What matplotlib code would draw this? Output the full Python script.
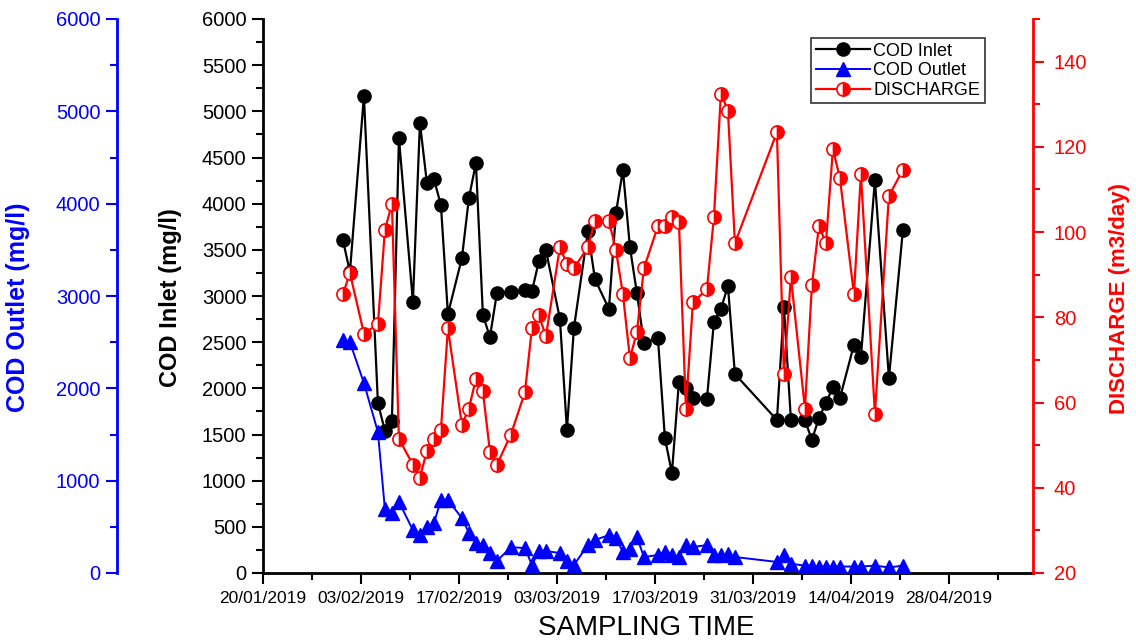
import pandas as pd
import matplotlib
matplotlib.use('Agg')
import matplotlib.pyplot as plt
import matplotlib.dates as mdates
from matplotlib.ticker import MultipleLocator

plt.rcParams['font.family'] = ['Liberation Sans', 'DejaVu Sans']

# sampling dates (taken around 10:00 each day)
sample_days = ['2019-01-31', '2019-02-01', '2019-02-03', '2019-02-05', '2019-02-06', '2019-02-07',
               '2019-02-08', '2019-02-10', '2019-02-11', '2019-02-12', '2019-02-13', '2019-02-14',
               '2019-02-15', '2019-02-17', '2019-02-18', '2019-02-19', '2019-02-20', '2019-02-21',
               '2019-02-22', '2019-02-24', '2019-02-26', '2019-02-27', '2019-02-28', '2019-03-01',
               '2019-03-03', '2019-03-04', '2019-03-05', '2019-03-07', '2019-03-08', '2019-03-10',
               '2019-03-11', '2019-03-12', '2019-03-13', '2019-03-14', '2019-03-15', '2019-03-17',
               '2019-03-18', '2019-03-19', '2019-03-20', '2019-03-21', '2019-03-22', '2019-03-24',
               '2019-03-25', '2019-03-26', '2019-03-27', '2019-03-28', '2019-04-03', '2019-04-04',
               '2019-04-05', '2019-04-07', '2019-04-08', '2019-04-09', '2019-04-10', '2019-04-11',
               '2019-04-12', '2019-04-14', '2019-04-15', '2019-04-17', '2019-04-19', '2019-04-21']

cod_inlet = [3606, 3260, 5166, 1840, 1540, 1650,
             4710, 2935, 4873, 4225, 4267, 3985,
             2805, 3411, 4061, 4440, 2794, 2556,
             3033, 3044, 3070, 3050, 3379, 3498,
             2751, 1549, 2653, 3704, 3184, 2859,
             3899, 4364, 3530, 3030, 2490, 2545,
             1460, 1083, 2070, 2000, 1895, 1884,
             2718, 2860, 3108, 2155, 1657, 2880,
             1657, 1657, 1440, 1680, 1840, 2015,
             1895, 2470, 2340, 4256, 2112, 3715]

cod_outlet = [2523, 2500, 2058, 1527, 690, 650,
              770, 465, 412, 500, 540, 790,
              790, 595, 433, 325, 303, 217,
              130, 280, 270, 87, 238, 238,
              216, 130, 87, 303, 357, 411,
              379, 227, 260, 390, 173, 195,
              227, 195, 173, 303, 281, 303,
              195, 195, 205, 173, 120, 190,
              100, 80, 80, 70, 70, 70,
              70, 70, 70, 80, 60, 80]

discharge = [85.4, 90.4, 76.2, 78.4, 100.5, 106.6,
             51.5, 45.4, 42.4, 48.7, 51.5, 53.6,
             77.4, 54.8, 58.6, 65.6, 62.6, 48.5,
             45.4, 52.5, 62.4, 77.4, 80.5, 75.5,
             96.5, 92.5, 91.5, 96.5, 102.6, 102.6,
             95.8, 85.4, 70.4, 76.5, 91.5, 101.4,
             101.4, 103.5, 102.4, 58.6, 83.5, 86.6,
             103.5, 132.5, 128.5, 97.4, 123.4, 66.6,
             89.4, 58.6, 87.5, 101.4, 97.4, 119.5,
             112.7, 85.4, 113.6, 57.4, 108.5, 114.6]

dates = pd.to_datetime(sample_days) + pd.Timedelta(hours=10)

W, H = 1136, 643
fig = plt.figure(figsize=(W / 100, H / 100), dpi=100)
ax = fig.add_axes([263 / W, 1 - 573 / H, 770 / W, 554 / H])
ax_out = ax.twinx()
ax_q = ax.twinx()

tick_kw = dict(direction='out', width=1.5, labelsize=14.5)

# COD inlet - black, main left axis
l1, = ax.plot(dates, cod_inlet, '-o', color='black', lw=1.6, ms=9.5, label='COD Inlet')
ax.set_ylim(0, 6000)
ax.yaxis.set_major_locator(MultipleLocator(500))
ax.yaxis.set_minor_locator(MultipleLocator(250))
ax.tick_params(axis='y', which='major', length=8, pad=4, **tick_kw)
ax.tick_params(axis='y', which='minor', length=5, width=1.5, direction='out')

# COD outlet - blue, offset left axis
l2, = ax_out.plot(dates, cod_outlet, '-^', color='blue', lw=1.4, ms=9.5, label='COD Outlet')
ax_out.set_ylim(0, 6000)
ax_out.yaxis.set_ticks_position('left')
ax_out.yaxis.set_label_position('left')
ax_out.spines['left'].set_position(('outward', 146 * 0.72))
ax_out.spines['left'].set_visible(True)
ax_out.spines['left'].set_color('blue')
ax_out.spines['left'].set_linewidth(2)
ax_out.spines['right'].set_visible(False)
ax_out.yaxis.set_major_locator(MultipleLocator(1000))
ax_out.yaxis.set_minor_locator(MultipleLocator(500))
ax_out.tick_params(axis='y', which='major', length=8, colors='blue', pad=4, **tick_kw)
ax_out.tick_params(axis='y', which='minor', length=5, width=1.5, direction='out', colors='blue')

# discharge - red, right axis
l3, = ax_q.plot(dates, discharge, '-o', color='red', lw=1.6, ms=9.5, fillstyle='right',
                markerfacecolor='red', markerfacecoloralt='white', markeredgecolor='red',
                markeredgewidth=1.2, label='DISCHARGE')
ax_q.set_ylim(20, 150)
ax_q.yaxis.set_major_locator(MultipleLocator(20))
ax_q.yaxis.set_minor_locator(MultipleLocator(10))
ax_q.tick_params(axis='y', which='major', length=8, colors='red', pad=7, **tick_kw)
ax_q.tick_params(axis='y', which='minor', length=5, width=1.5, direction='out', colors='red')
ax_q.spines['right'].set_color('red')
ax_q.spines['right'].set_linewidth(2)

for a in (ax, ax_out, ax_q):
    a.spines['top'].set_visible(False)
ax.spines['right'].set_visible(False)
ax_out.spines['bottom'].set_visible(False)
ax_q.spines['bottom'].set_visible(False)
ax_q.spines['left'].set_visible(False)
ax.spines['left'].set_linewidth(2)
ax.spines['bottom'].set_linewidth(2)

# x axis
ax.set_xlim(pd.Timestamp('2019-01-20'), pd.Timestamp('2019-05-10'))
ax.set_xticks(pd.date_range('2019-01-20', '2019-05-10', freq='14D'))
ax.set_xticks(pd.date_range('2019-01-20', '2019-05-10', freq='7D'), minor=True)
ax.xaxis.set_major_formatter(mdates.DateFormatter('%d/%m/%Y'))
ax.tick_params(axis='x', which='major', length=8, direction='out', width=1.5, labelsize=12.5, pad=5)
ax.tick_params(axis='x', which='minor', length=5, direction='out', width=1.5)

# axis titles
fig.text(18 / W, 1 - 307 / H, 'COD Outlet (mg/l)', color='blue', fontsize=18, fontweight='bold',
         rotation=90, ha='center', va='center')
fig.text(170 / W, 1 - 298 / H, 'COD Inlet (mg/l)', color='black', fontsize=17, fontweight='bold',
         rotation=90, ha='center', va='center')
fig.text(1120 / W, 1 - 298 / H, 'DISCHARGE (m3/day)', color='red', fontsize=16, fontweight='bold',
         rotation=90, ha='center', va='center')
fig.text(646 / W, 1 - 628 / H, 'SAMPLING TIME', color='black', fontsize=20,
         ha='center', va='center')

leg = ax_q.legend(handles=[l1, l2, l3], loc='upper left', bbox_to_anchor=(811 / W, 1 - 38 / H),
                  bbox_transform=fig.transFigure, fancybox=False, framealpha=1, edgecolor='#333333',
                  fontsize=13, borderaxespad=0, borderpad=0.25, labelspacing=0.15,
                  handlelength=3.0, handletextpad=0.2)
leg.get_frame().set_linewidth(1.2)

fig.savefig('out.png', dpi=100)
